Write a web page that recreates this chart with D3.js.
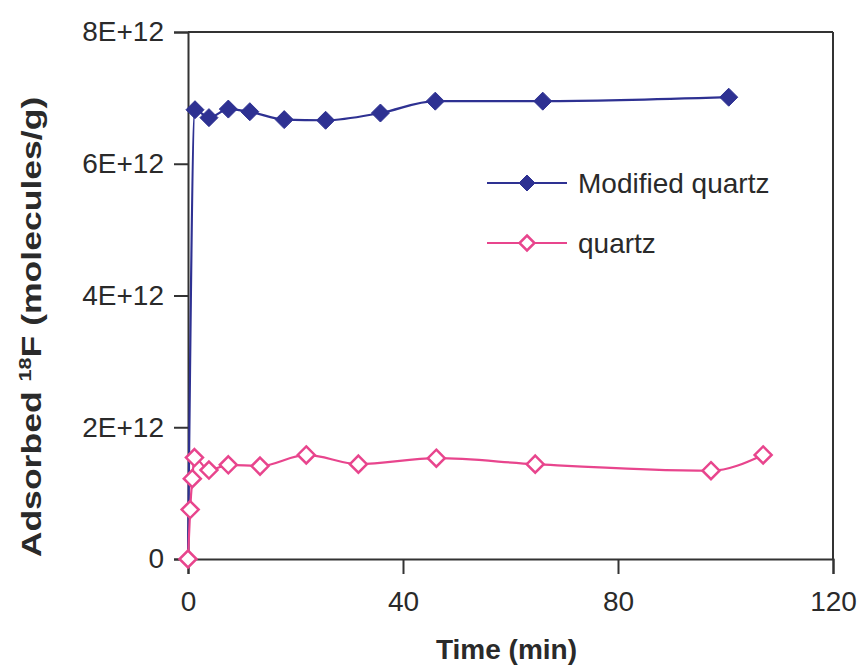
<!DOCTYPE html>
<html>
<head>
<meta charset="utf-8">
<script src="https://cdn.jsdelivr.net/npm/d3@7"></script>
<style>
  html, body { margin: 0; padding: 0; background: #fff; }
  svg { display: block; }
  text { font-family: "Liberation Sans", Arial, sans-serif; fill: #2a2a2a; }
</style>
</head>
<body>
<svg id="chart" width="861" height="665"></svg>
<script>
// ---- data ----
const seriesNames = ["Modified quartz", "quartz"];
const modTime  = [0, 1.3, 3.9, 7.5, 11.5, 17.9, 25.6, 35.8, 46, 66, 100.6];
const modValue = [0, 6.82e12, 6.70e12, 6.83e12, 6.79e12, 6.67e12, 6.66e12, 6.77e12, 6.95e12, 6.95e12, 7.01e12];
const qTime  = [0, 0.4, 0.8, 1.2, 3.9, 7.5, 13.4, 22, 31.7, 46.2, 64.6, 97.3, 107];
const qValue = [0, 0.75e12, 1.22e12, 1.54e12, 1.35e12, 1.43e12, 1.41e12, 1.58e12, 1.44e12, 1.53e12, 1.44e12, 1.34e12, 1.58e12];
const xTicks = [0, 40, 80, 120];
const yTicks = [0, 2e12, 4e12, 6e12, 8e12];
const yTickLabels = ["0", "2E+12", "4E+12", "6E+12", "8E+12"];

// ---- layout ----
const W = 861, H = 665;
const m = {left: 188, top: 32, right: 28, bottom: 106};
const iw = W - m.left - m.right, ih = H - m.top - m.bottom;
const blue = "#2e3192", pink = "#e8458d", axisCol = "#333";

const svg = d3.select("#chart");
const g = svg.append("g").attr("transform", `translate(${m.left},${m.top})`);

const x = d3.scaleLinear().domain([0, 120]).range([0, iw]);
const y = d3.scaleLinear().domain([0, 8e12]).range([ih, 0]);

// frame (top and right)
g.append("line").attr("x1", 0).attr("x2", iw).attr("y1", 0).attr("y2", 0)
  .attr("stroke", axisCol).attr("stroke-width", 2);
g.append("line").attr("x1", iw).attr("x2", iw).attr("y1", 0).attr("y2", ih)
  .attr("stroke", axisCol).attr("stroke-width", 2);

// axes
const xAxis = g.append("g").attr("transform", `translate(0,${ih})`)
  .call(d3.axisBottom(x).tickValues(xTicks).tickSize(15).tickPadding(17));
const yAxis = g.append("g")
  .call(d3.axisLeft(y).tickValues(yTicks).tickSize(14).tickPadding(10)
    .tickFormat((d, i) => yTickLabels[i]));
[xAxis, yAxis].forEach(a => {
  a.select(".domain").attr("stroke", axisCol).attr("stroke-width", 2);
  a.selectAll(".tick line").attr("stroke", axisCol).attr("stroke-width", 2);
  a.selectAll(".tick text").style("font-size", "28px").attr("fill", "#2a2a2a")
    .style("font-family", "'Liberation Sans', Arial, sans-serif");
});

// axis titles
svg.append("text").attr("x", m.left + iw / 2 - 4).attr("y", 659)
  .attr("text-anchor", "middle").style("font-size", "28px").style("font-weight", "bold")
  .text("Time (min)");
const yt = svg.append("text")
  .attr("transform", `translate(41,327) rotate(-90) scale(1.27,1)`)
  .attr("text-anchor", "middle").style("font-size", "28px").style("font-weight", "bold");
yt.append("tspan").text("Adsorbed ");
yt.append("tspan").attr("dy", -10).style("font-size", "17px").text("18");
yt.append("tspan").attr("dy", 10).text("F (molecules/g)");

// lines
const line = d3.line().x(d => x(d[0])).y(d => y(d[1])).curve(d3.curveMonotoneX);
const modData = modTime.map((t, i) => [t, modValue[i]]);
const qData = qTime.map((t, i) => [t, qValue[i]]);

g.append("path").datum(modData).attr("d", line)
  .attr("fill", "none").attr("stroke", blue).attr("stroke-width", 2.2);
g.append("path").datum(qData).attr("d", line)
  .attr("fill", "none").attr("stroke", pink).attr("stroke-width", 2.2);

const diamond = r => `M0,${-r}L${r},0L0,${r}L${-r},0Z`;

g.selectAll(".mod").data(modData).enter().append("path")
  .attr("transform", d => `translate(${x(d[0])},${y(d[1])})`)
  .attr("d", diamond(9)).attr("fill", blue).attr("stroke", blue).attr("stroke-width", 1);
g.selectAll(".q").data(qData).enter().append("path")
  .attr("transform", d => `translate(${x(d[0])},${y(d[1])})`)
  .attr("d", diamond(8.5)).attr("fill", "#fff").attr("stroke", pink).attr("stroke-width", 2.5);

// legend
const legend = svg.append("g");
const legItems = [
  {name: seriesNames[0], color: blue, fill: blue, y: 183},
  {name: seriesNames[1], color: pink, fill: "#fff", y: 243}
];
legItems.forEach(it => {
  legend.append("line").attr("x1", 487).attr("x2", 567).attr("y1", it.y).attr("y2", it.y)
    .attr("stroke", it.color).attr("stroke-width", 2.2);
  legend.append("path").attr("transform", `translate(527,${it.y})`)
    .attr("d", diamond(it.fill === "#fff" ? 7.5 : 8)).attr("fill", it.fill)
    .attr("stroke", it.color).attr("stroke-width", it.fill === "#fff" ? 2.5 : 1);
  legend.append("text").attr("x", 578).attr("y", it.y).attr("dy", "0.35em")
    .style("font-size", "28px").text(it.name);
});
</script>
</body>
</html>
